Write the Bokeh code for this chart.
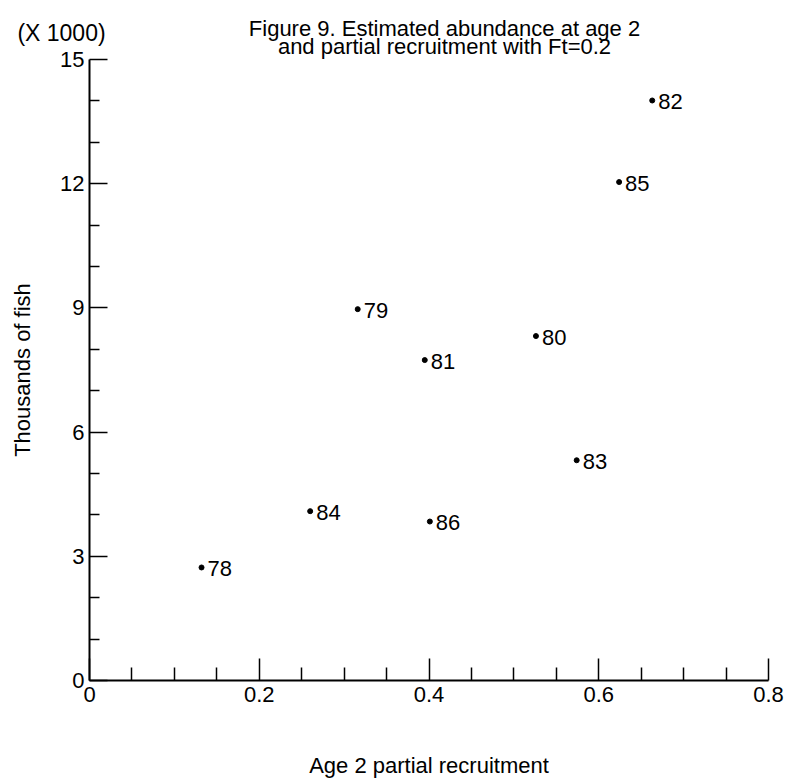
from bokeh.plotting import figure
from bokeh.models import Range1d, FixedTicker, ColumnDataSource
from bokeh.core.properties import value
from bokeh.embed import file_html
from bokeh.resources import INLINE

# Data
years = ["78", "79", "80", "81", "82", "83", "84", "85", "86"]
recruitment = [0.132, 0.316, 0.526, 0.395, 0.663, 0.574, 0.260, 0.624, 0.401]
abundance = [2.73, 8.97, 8.32, 7.74, 14.01, 5.32, 4.09, 12.04, 3.84]

x_ticks = [0, 0.2, 0.4, 0.6, 0.8]
x_tick_labels = ["0", "0.2", "0.4", "0.6", "0.8"]
x_minor = [0.05, 0.1, 0.15, 0.25, 0.3, 0.35, 0.45, 0.5, 0.55, 0.65, 0.7, 0.75]
y_ticks = [0, 3, 6, 9, 12, 15]
y_tick_labels = ["0", "3", "6", "9", "12", "15"]
y_minor = [1, 2, 4, 5, 7, 8, 10, 11, 13, 14]

title_line1 = "Figure 9. Estimated abundance at age 2"
title_line2 = "and partial recruitment with Ft=0.2"
scale_note = "(X 1000)"

FONT = "Liberation Sans"
W, H = 787, 781
# pixel geometry of the axes box inside the canvas
LEFT, RIGHT, TOP, BOTTOM = 89, 768, 59, 680
X_MAX, Y_MAX = 0.8, 15.0
kx = (RIGHT - LEFT) / X_MAX
ky = (BOTTOM - TOP) / Y_MAX


def dx(px):
    return (px - LEFT) / kx


def dy(py):
    return (BOTTOM - py) / ky


p = figure(width=W, height=H, output_backend="svg", toolbar_location=None,
           x_range=Range1d(dx(0), dx(W)), y_range=Range1d(dy(H), dy(0)),
           min_border=0)
p.outline_line_color = None
p.background_fill_color = "white"
p.border_fill_color = "white"
p.xgrid.visible = False
p.ygrid.visible = False

# X axis
xa = p.xaxis[0]
xa.fixed_location = 0
xa.bounds = (0, X_MAX)
xa.ticker = FixedTicker(ticks=x_ticks, minor_ticks=x_minor)
xa.major_label_overrides = {t: l for t, l in zip(x_ticks, x_tick_labels)}
xa.major_tick_in = 22
xa.major_tick_out = 0
xa.minor_tick_in = 13
xa.minor_tick_out = 0
xa.axis_line_width = 2
xa.major_tick_line_width = 1.5
xa.minor_tick_line_width = 1.5
xa.axis_line_color = "black"
xa.major_tick_line_color = "black"
xa.minor_tick_line_color = "black"
xa.major_label_text_font = FONT
xa.major_label_text_font_size = "22px"
xa.major_label_text_color = "black"
xa.major_label_standoff = 6
xa.axis_label = "Age 2 partial recruitment"
xa.axis_label_text_font = FONT
xa.axis_label_text_font_style = "normal"
xa.axis_label_text_font_size = "22px"
xa.axis_label_text_color = "black"
xa.axis_label_standoff = 48

# Y axis
ya = p.yaxis[0]
ya.fixed_location = 0
ya.bounds = (0, Y_MAX)
ya.ticker = FixedTicker(ticks=y_ticks, minor_ticks=y_minor)
ya.major_label_overrides = {t: l for t, l in zip(y_ticks, y_tick_labels)}
ya.major_tick_in = 18
ya.major_tick_out = 0
ya.minor_tick_in = 10
ya.minor_tick_out = 0
ya.axis_line_width = 2
ya.major_tick_line_width = 1.5
ya.minor_tick_line_width = 1.5
ya.axis_line_color = "black"
ya.major_tick_line_color = "black"
ya.minor_tick_line_color = "black"
ya.major_label_text_font = FONT
ya.major_label_text_font_size = "22px"
ya.major_label_text_color = "black"
ya.major_label_standoff = 5
ya.major_label_orientation = "horizontal"
ya.axis_label = "Thousands of fish"
ya.axis_label_text_font = FONT
ya.axis_label_text_font_style = "normal"
ya.axis_label_text_font_size = "22px"
ya.axis_label_text_color = "black"
ya.axis_label_standoff = 22

src = ColumnDataSource(dict(x=recruitment, y=abundance, label=years))
p.scatter("x", "y", source=src, size=5, color="black")
p.text("x", "y", text="label", source=src, x_offset=6, y_offset=1,
       text_baseline="middle", text_align="left",
       text_font=value(FONT), text_font_size="22px", text_color="black")

# Title lines and the scale note
p.text(x=[dx(444), dx(444)], y=[dy(28), dy(46)], text=[title_line1, title_line2],
       text_align="center", text_baseline="alphabetic",
       text_font=value(FONT), text_font_size="22px", text_color="black")
p.text(x=[dx(61)], y=[dy(32)], text=[scale_note],
       text_align="center", text_baseline="middle",
       text_font=value(FONT), text_font_size="23px", text_color="black")

open("out.html", "w").write(file_html(p, INLINE))
